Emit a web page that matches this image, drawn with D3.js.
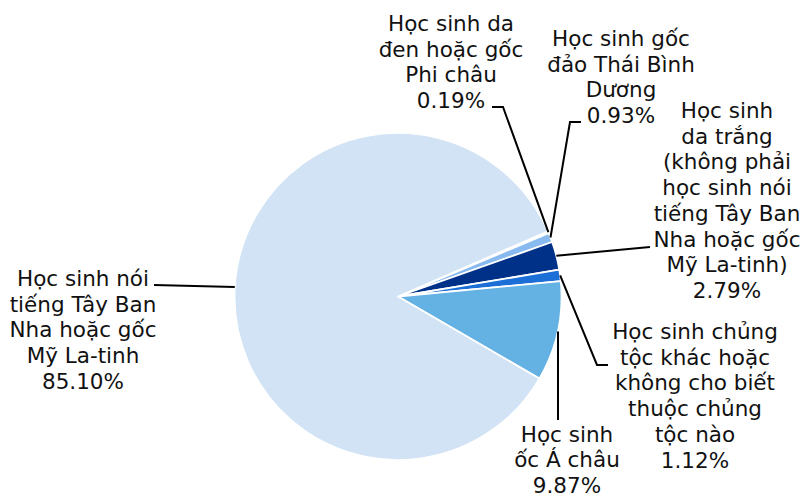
<!DOCTYPE html>
<html>
<head>
  <meta charset="utf-8">
  <title>Học sinh theo chủng tộc</title>
  <script src="https://d3js.org/d3.v7.min.js"></script>
  <style>
    html, body {
      margin: 0;
      padding: 0;
      background: #fff;
    }
    svg {
      display: block;
    }
    .label {
      font-family: Verdana, "DejaVu Sans", sans-serif;
      font-size: 21.5px;
      fill: #111;
    }
    .leader {
      fill: none;
      stroke: #000;
      stroke-width: 2px;
    }
  </style>
</head>
<body>
  <svg width="801" height="496"></svg>

  <script>
    // Data (clockwise order, starting at the tiny slice near the top right)
    const categories = [
      "Học sinh da đen hoặc gốc Phi châu",
      "Học sinh gốc đảo Thái Bình Dương",
      "Học sinh da trắng (không phải học sinh nói tiếng Tây Ban Nha hoặc gốc Mỹ La-tinh)",
      "Học sinh chủng tộc khác hoặc không cho biết thuộc chủng tộc nào",
      "Học sinh gốc Á châu",
      "Học sinh nói tiếng Tây Ban Nha hoặc gốc Mỹ La-tinh"
    ];
    const values = [0.19, 0.93, 2.79, 1.12, 9.87, 85.10];
    const labelLines = [
      ["Học sinh da", "đen hoặc gốc", "Phi châu"],
      ["Học sinh gốc", "đảo Thái Bình", "Dương"],
      ["Học sinh", "da trắng", "(không phải", "học sinh nói", "tiếng Tây Ban", "Nha hoặc gốc", "Mỹ La-tinh)"],
      ["Học sinh chủng", "tộc khác hoặc", "không cho biết", "thuộc chủng", "tộc nào"],
      ["Học sinh", "ốc Á châu"],
      ["Học sinh nói", "tiếng Tây Ban", "Nha hoặc gốc", "Mỹ La-tinh"]
    ];
    const colors = ["#6fa8e6", "#88b9ef", "#003189", "#1c6fd6", "#64b1e4", "#d1e3f4"];

    // Layout: label block centre / first baseline, and leader elbow points
    const layout = [
      { x: 451, y: 31,  path: [[503, 107], [492, 107]] },
      { x: 621, y: 46,  path: [[570, 122], [581, 122]] },
      { x: 727, y: 118, path: [[650, 247]] },
      { x: 695, y: 339, path: [[597, 365], [608, 365]] },
      { x: 567, y: 441.5, path: [[558, 420]] },
      { x: 83,  y: 286, path: [[154, 285]] }
    ];

    const width = 801, height = 496;
    const cx = 398, cy = 296.5, radius = 163.5;
    const lineH = 25.7;

    const svg = d3.select("svg");
    const g = svg.append("g").attr("transform", `translate(${cx},${cy})`);

    const start = 66.5 * Math.PI / 180;
    const pie = d3.pie()
      .sort(null)
      .value(d => d)
      .startAngle(start)
      .endAngle(start + 2 * Math.PI);

    const arcs = pie(values);
    const arc = d3.arc().innerRadius(0).outerRadius(radius);

    g.selectAll(".slice")
      .data(arcs)
      .enter().append("path")
      .attr("class", "slice")
      .attr("d", arc)
      .attr("fill", (d, i) => colors[i])
      .attr("stroke", "#fff")
      .attr("stroke-width", 1.8)
      .attr("stroke-linejoin", "round");

    // leader lines from the slice edge (mid angle) to the labels
    const line = d3.line();
    arcs.forEach((d, i) => {
      const mid = (d.startAngle + d.endAngle) / 2;
      const edge = [cx + radius * Math.sin(mid), cy - radius * Math.cos(mid)];
      if (i === 4) edge[0] = layout[i].path[0][0]; // vertical leader
      svg.append("path")
        .attr("class", "leader")
        .attr("d", line([edge].concat(layout[i].path)));
    });

    // labels: category lines then the percentage
    arcs.forEach((d, i) => {
      const lines = labelLines[i].concat([d3.format(".2f")(values[i]) + "%"]);
      const t = svg.append("text")
        .attr("class", "label")
        .attr("text-anchor", "middle");
      lines.forEach((s, k) => {
        t.append("tspan")
          .attr("x", layout[i].x)
          .attr("y", layout[i].y + k * lineH)
          .text(s);
      });
    });
  </script>
</body>
</html>
